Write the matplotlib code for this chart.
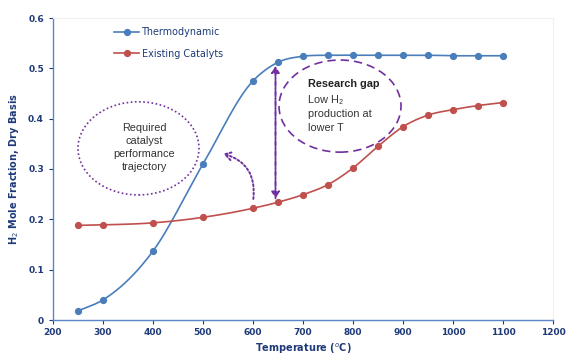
import numpy as np
import matplotlib
matplotlib.use("Agg")
import matplotlib.pyplot as plt
from matplotlib.patches import Ellipse, FancyArrowPatch

temps = [250, 300, 400, 500, 600, 650, 700, 750, 800, 850, 900, 950, 1000, 1050, 1100]
thermo = [0.018, 0.040, 0.137, 0.310, 0.475, 0.512, 0.524, 0.526, 0.526, 0.526,
          0.526, 0.526, 0.525, 0.525, 0.525]
catalysts = [0.188, 0.189, 0.193, 0.204, 0.222, 0.234, 0.249, 0.269, 0.302, 0.345,
             0.384, 0.407, 0.418, 0.426, 0.432]
series_labels = ['Thermodynamic', 'Existing Catalyts']
xticks = [200, 300, 400, 500, 600, 700, 800, 900, 1000, 1100, 1200]
yticks = [0, 0.1, 0.2, 0.3, 0.4, 0.5, 0.6]
ytick_labels = ['0', '0.1', '0.2', '0.3', '0.4', '0.5', '0.6']

navy = '#1F3A78'
blue = '#4A7EBB'
red = '#C0504D'
purple = '#7030A0'
note_font = ['Liberation Sans', 'DejaVu Sans']


def smooth(x, y, n=25):
    # cubic hermite through the points, tangents from neighbouring slopes
    x = np.asarray(x, float)
    y = np.asarray(y, float)
    h = np.diff(x)
    d = np.diff(y) / h
    m = np.empty_like(y)
    m[0], m[-1] = d[0], d[-1]
    m[1:-1] = (h[1:] * d[:-1] + h[:-1] * d[1:]) / (h[:-1] + h[1:])
    xs, ys = [], []
    t = np.linspace(0, 1, n, endpoint=False)
    for i in range(len(x) - 1):
        h00 = 2 * t ** 3 - 3 * t ** 2 + 1
        h10 = t ** 3 - 2 * t ** 2 + t
        h01 = -2 * t ** 3 + 3 * t ** 2
        h11 = t ** 3 - t ** 2
        xs.extend(x[i] + t * h[i])
        ys.extend(h00 * y[i] + h10 * h[i] * m[i] + h01 * y[i + 1] + h11 * h[i] * m[i + 1])
    xs.append(x[-1])
    ys.append(y[-1])
    return np.array(xs), np.array(ys)


fig = plt.figure(figsize=(5.67, 3.56), dpi=100)
ax = fig.add_axes([53 / 567, 36 / 356, 500 / 567, 302 / 356])

for vals, col, lab in [(thermo, blue, series_labels[0]), (catalysts, red, series_labels[1])]:
    sx, sy = smooth(temps, vals)
    ax.plot(sx, sy, color=col, lw=1.2)
    ax.plot(temps, vals, 'o', color=col, ms=4.2)
    ax.plot([], [], '-o', color=col, ms=4.2, lw=1.2, label=lab)

ax.set_xlim(200, 1200)
ax.set_ylim(0, 0.6)
ax.set_xticks(xticks)
ax.set_yticks(yticks)
ax.set_yticklabels(ytick_labels)
for lbl in ax.get_xticklabels() + ax.get_yticklabels():
    lbl.set_fontweight('bold')
ax.tick_params(colors=navy, labelsize=6.5, length=3, width=0.8)
ax.tick_params(axis='x', pad=3)
for s in ['left', 'bottom']:
    ax.spines[s].set_color('#5B86C5')
    ax.spines[s].set_linewidth(1.0)
for s in ['top', 'right']:
    ax.spines[s].set_color('#F0F0EC')
    ax.spines[s].set_linewidth(0.8)

ax.set_xlabel('Temperature ($^{o}$C)', fontsize=7, fontweight='bold', color=navy, labelpad=3)
ax.set_ylabel('H$_2$ Mole Fraction, Dry Basis', fontsize=7, fontweight='bold', color=navy, labelpad=5)

leg = ax.legend(loc='upper left', bbox_to_anchor=(0.105, 0.998), frameon=False, fontsize=6.9,
                handlelength=2.6, labelspacing=1.2, handletextpad=0.3)
for t in leg.get_texts():
    t.set_color(navy)

# annotations
ax.add_patch(Ellipse((371, 0.341), 242, 0.185, fill=False, ec=purple, ls=(0, (1, 1.5)), lw=1.2))
ax.text(383, 0.342, 'Required\ncatalyst\nperformance\ntrajectory', ha='center', va='center',
        fontsize=7.8, family=note_font, color='#333333', linespacing=1.38)

ax.add_patch(Ellipse((774, 0.425), 244, 0.183, fill=False, ec=purple, ls=(0, (5, 3)), lw=1.2))
ax.text(710, 0.469, 'Research gap', fontsize=7.8, fontweight='bold', family=note_font,
        color='#222222', va='center')
ax.text(710, 0.409, 'Low H\u2082\nproduction at\nlower T', fontsize=7.8, family=note_font,
        color='#333333', va='center', linespacing=1.5)

ax.add_patch(FancyArrowPatch((645, 0.236), (645, 0.51), arrowstyle='-|>,head_length=4,head_width=2.5',
                             color=purple, ls=(0, (4, 2)), lw=1.2))
ax.add_patch(FancyArrowPatch((645, 0.505), (645, 0.236), arrowstyle='-|>,head_length=4,head_width=2.5',
                             color=purple, ls=(0, (4, 2)), lw=1.2))
ax.add_patch(FancyArrowPatch((600, 0.235), (535, 0.332), connectionstyle='arc3,rad=0.45',
                             arrowstyle='->,head_length=5,head_width=3', color=purple,
                             ls=(0, (1, 1.2)), lw=1.4))

fig.savefig('out.png', dpi=100)
